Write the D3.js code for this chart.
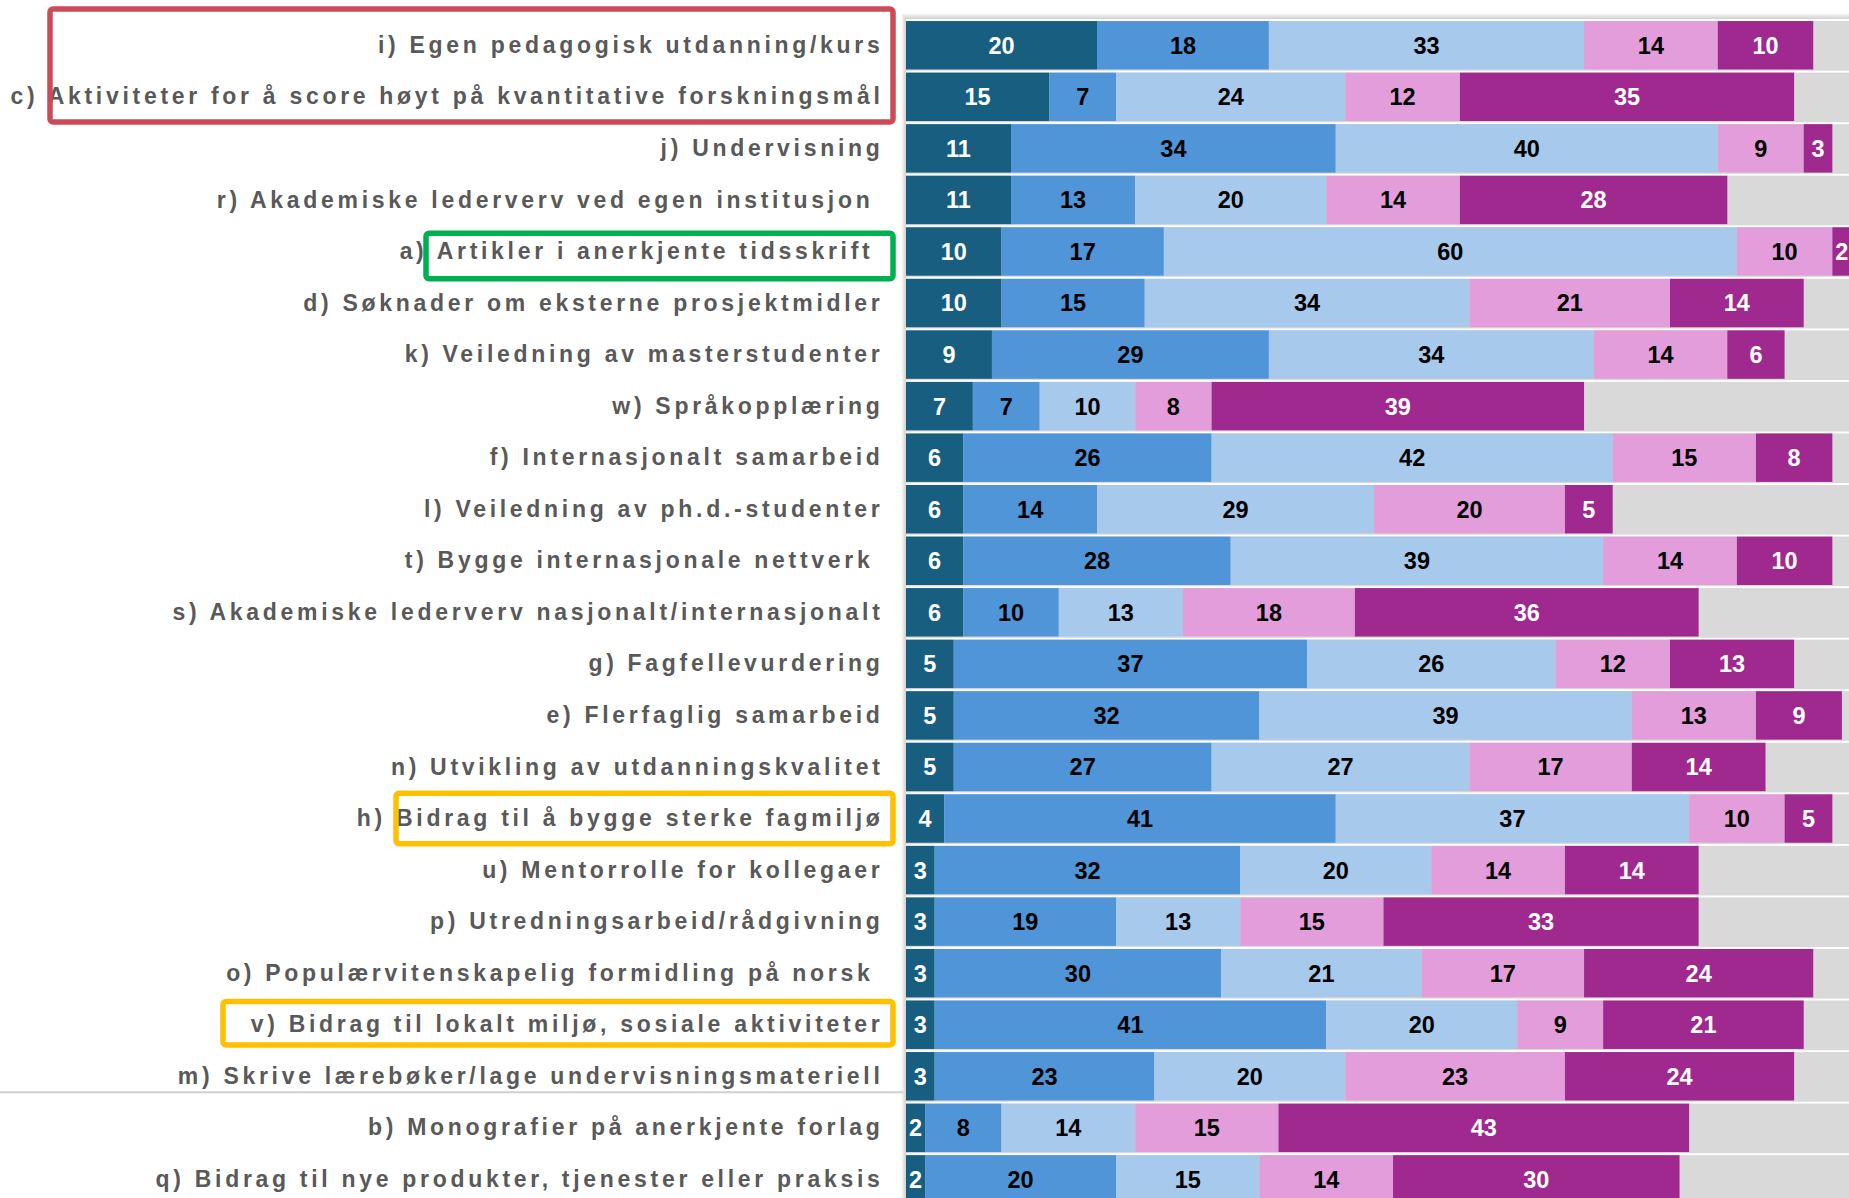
<!DOCTYPE html>
<html>
<head>
<meta charset="utf-8">
<script src="https://cdn.jsdelivr.net/npm/d3@7"></script>
<style>
  body { margin: 0; background: #fff; }
  svg { display: block; }
</style>
</head>
<body>
<svg id="chart"></svg>
<script>
// activity labels, top to bottom (some carry a trailing space, as in the source)
const categories = [
    "i) Egen pedagogisk utdanning/kurs",
    "c) Aktiviteter for å score høyt på kvantitative forskningsmål",
    "j) Undervisning",
    "r) Akademiske lederverv ved egen institusjon ",
    "a) Artikler i anerkjente tidsskrift ",
    "d) Søknader om eksterne prosjektmidler",
    "k) Veiledning av masterstudenter",
    "w) Språkopplæring",
    "f) Internasjonalt samarbeid",
    "l) Veiledning av ph.d.-studenter",
    "t) Bygge internasjonale nettverk ",
    "s) Akademiske lederverv nasjonalt/internasjonalt",
    "g) Fagfellevurdering",
    "e) Flerfaglig samarbeid",
    "n) Utvikling av utdanningskvalitet",
    "h) Bidrag til å bygge sterke fagmiljø",
    "u) Mentorrolle for kollegaer",
    "p) Utredningsarbeid/rådgivning",
    "o) Populærvitenskapelig formidling på norsk ",
    "v) Bidrag til lokalt miljø, sosiale aktiviteter",
    "m) Skrive lærebøker/lage undervisningsmateriell",
    "b) Monografier på anerkjente forlag",
    "q) Bidrag til nye produkter, tjenester eller praksis"
];

// five answer levels, percentages per row
const level1 = [20, 15, 11, 11, 10, 10, 9, 7, 6, 6, 6, 6, 5, 5, 5, 4, 3, 3, 3, 3, 3, 2, 2];
const level2 = [18, 7, 34, 13, 17, 15, 29, 7, 26, 14, 28, 10, 37, 32, 27, 41, 32, 19, 30, 41, 23, 8, 20];
const level3 = [33, 24, 40, 20, 60, 34, 34, 10, 42, 29, 39, 13, 26, 39, 27, 37, 20, 13, 21, 20, 20, 14, 15];
const level4 = [14, 12, 9, 14, 10, 21, 14, 8, 15, 20, 14, 18, 12, 13, 17, 10, 14, 15, 17, 9, 23, 15, 14];
const level5 = [10, 35, 3, 28, 2, 14, 6, 39, 8, 5, 10, 36, 13, 9, 14, 5, 14, 33, 24, 21, 24, 43, 30];

const levelColors = ["#175e80", "#4f95d8", "#a7c9eb", "#e49ddb", "#a0298f"];
const levelText = ["#fff", "#000", "#000", "#000", "#fff"];

// highlighted labels: first row, last row, colour
const hlFirst = ["i) Egen pedagogisk utdanning/kurs", "a) Artikler i anerkjente tidsskrift ",
    "h) Bidrag til å bygge sterke fagmiljø", "v) Bidrag til lokalt miljø, sosiale aktiviteter"];
const hlLast = ["c) Aktiviteter for å score høyt på kvantitative forskningsmål", "a) Artikler i anerkjente tidsskrift ",
    "h) Bidrag til å bygge sterke fagmiljø", "v) Bidrag til lokalt miljø, sosiale aktiviteter"];
const hlColors = ["#cc4b59", "#00b050", "#ffc000", "#ffc000"];

const width = 1849, height = 1198;
const config = {
    barLeft: 906,
    top: 19.5,
    step: 51.55,
    labelRight: 883.5,
    // box geometry round the highlighted labels: left edge, top/bottom offsets
    hlLeft: [50, 426, 396, 223],
    hlTop: [-12, 6, -1, 1],
    hlBottom: [1, 3, 1, -4]
};

const rows = categories.map((c, i) => {
    const vals = [level1[i], level2[i], level3[i], level4[i], level5[i]];
    let acc = 0;
    return {
        name: c,
        segs: vals.map((v, k) => {
            const s = {k: k, v: v, x0: acc, x1: acc + v};
            acc += v;
            return s;
        })
    };
});

const x = d3.scaleLinear()
    .domain([0, 100])
    .range([config.barLeft, config.barLeft + 955]);

const y = d3.scaleBand()
    .domain(categories)
    .range([config.top, config.top + config.step * categories.length])
    .paddingInner(0.06)
    .paddingOuter(0.03);

const svg = d3.select("#chart")
    .attr("width", width)
    .attr("height", height)
    .attr("viewBox", [0, 0, width, height])
    .attr("font-family", "'Liberation Sans', Arial, sans-serif");

// shadows framing the table
const defs = svg.append("defs");
const gTop = defs.append("linearGradient").attr("id", "shTop").attr("x1", 0).attr("x2", 0).attr("y1", 0).attr("y2", 1);
gTop.append("stop").attr("offset", 0).attr("stop-color", "#fff");
gTop.append("stop").attr("offset", 1).attr("stop-color", "#cfcfcf");
const gLeft = defs.append("linearGradient").attr("id", "shLeft").attr("x1", 0).attr("x2", 1).attr("y1", 0).attr("y2", 0);
gLeft.append("stop").attr("offset", 0).attr("stop-color", "#fff");
gLeft.append("stop").attr("offset", 1).attr("stop-color", "#cfcfcf");

svg.append("rect")
    .attr("x", config.barLeft - 4).attr("y", 13)
    .attr("width", width).attr("height", 6)
    .attr("fill", "url(#shTop)");
svg.append("rect")
    .attr("x", config.barLeft - 5).attr("y", 17)
    .attr("width", 5).attr("height", height)
    .attr("fill", "url(#shLeft)");

// row backgrounds
svg.append("g")
    .selectAll("rect")
    .data(rows)
    .join("rect")
    .attr("x", x(0))
    .attr("y", d => y(d.name))
    .attr("width", width - x(0))
    .attr("height", y.bandwidth() + 1.2)
    .attr("fill", "#d9d9d9");

// separator under m)
const sepY = y(categories[20]) + y.bandwidth() * 0.83;
svg.append("line")
    .attr("x1", 0).attr("x2", config.barLeft - 3)
    .attr("y1", sepY).attr("y2", sepY)
    .attr("stroke", "#d0d0d0")
    .attr("stroke-width", 2);

// stacked bars
const rowG = svg.append("g")
    .selectAll("g")
    .data(rows)
    .join("g")
    .attr("transform", d => `translate(0,${y(d.name)})`);

rowG.selectAll("rect")
    .data(d => d.segs)
    .join("rect")
    .attr("x", d => x(d.x0))
    .attr("width", d => x(d.x1) - x(d.x0))
    .attr("height", y.bandwidth())
    .attr("fill", d => levelColors[d.k]);

rowG.selectAll("text")
    .data(d => d.segs)
    .join("text")
    .attr("x", d => (x(d.x0) + x(d.x1)) / 2)
    .attr("y", y.bandwidth() / 2)
    .attr("dy", "0.36em")
    .attr("text-anchor", "middle")
    .attr("font-size", 23.5)
    .attr("font-weight", "bold")
    .attr("fill", d => levelText[d.k])
    .text(d => d.v);

// category labels
svg.append("g")
    .selectAll("text")
    .data(categories)
    .join("text")
    .attr("x", config.labelRight)
    .attr("y", d => y(d) + y.bandwidth() / 2)
    .attr("dy", "0.33em")
    .attr("text-anchor", "end")
    .attr("font-size", 23)
    .attr("font-weight", "bold")
    .attr("letter-spacing", 3.7)
    .attr("fill", "#595959")
    .style("white-space", "pre")
    .text(d => d);

// highlight boxes round labels
svg.append("g")
    .selectAll("rect")
    .data(hlFirst)
    .join("rect")
    .attr("x", (d, i) => config.hlLeft[i])
    .attr("y", (d, i) => y(d) + config.hlTop[i])
    .attr("width", (d, i) => 893 - config.hlLeft[i])
    .attr("height", (d, i) => y(hlLast[i]) + y.bandwidth() + config.hlBottom[i] - y(d) - config.hlTop[i])
    .attr("rx", 3)
    .attr("fill", "none")
    .attr("stroke", (d, i) => hlColors[i])
    .attr("stroke-width", 5.5);
</script>
</body>
</html>
